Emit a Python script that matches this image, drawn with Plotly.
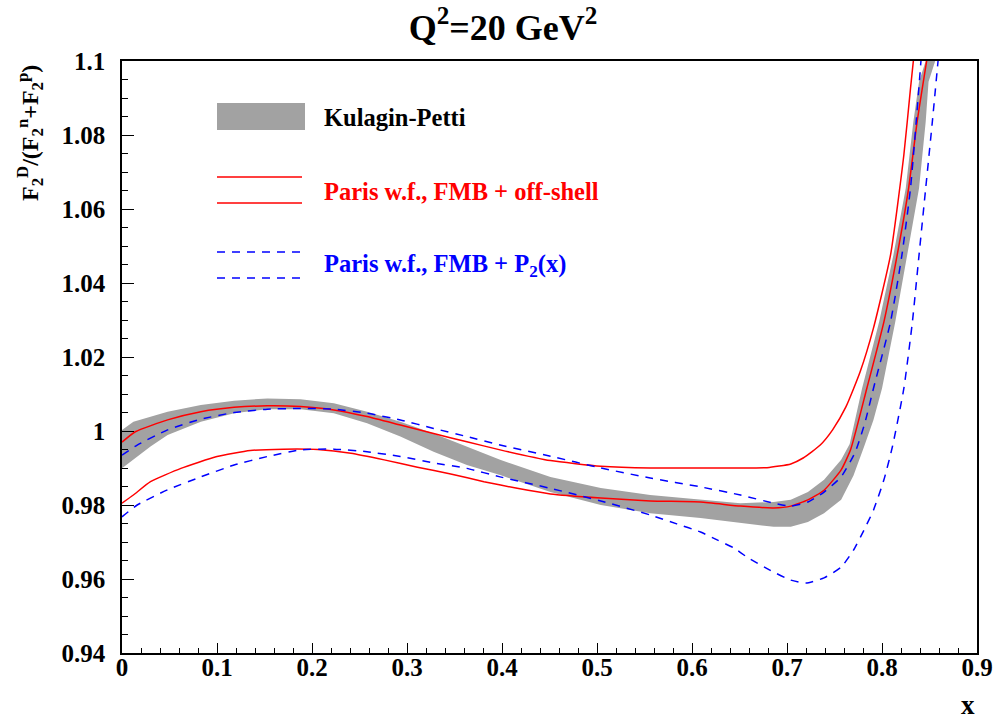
import plotly.graph_objects as go

# ---------------- data ----------------
band_top_x = [0, 0.012, 0.048, 0.083, 0.118, 0.153, 0.188, 0.223, 0.258, 0.293, 0.328, 0.363, 0.398, 0.451,
              0.504, 0.556, 0.609, 0.651, 0.686, 0.704, 0.722, 0.739, 0.757, 0.766, 0.779, 0.797, 0.812, 0.825,
              0.833, 0.839, 0.846]
band_top_y = [1.0003, 1.0025, 1.0052, 1.0070, 1.0082, 1.0088, 1.0086, 1.0075, 1.0052, 1.0025, 0.9993, 0.9958,
              0.9922, 0.9876, 0.9846, 0.9827, 0.9814, 0.9805, 0.9808, 0.9814, 0.9835, 0.9868, 0.9922, 0.9965,
              1.0115, 1.0295, 1.0476, 1.0656, 1.0836, 1.0944, 1.1]
band_bot_x = [0, 0.012, 0.030, 0.048, 0.083, 0.118, 0.153, 0.188, 0.223, 0.258, 0.293, 0.328, 0.363, 0.398,
              0.451, 0.504, 0.556, 0.609, 0.651, 0.686, 0.704, 0.722, 0.739, 0.757, 0.770, 0.781, 0.791, 0.800,
              0.814, 0.8265, 0.839, 0.846, 0.849, 0.856]
band_bot_y = [0.9899, 0.9922, 0.9958, 0.9989, 1.0025, 1.0048, 1.0059, 1.0059, 1.0048, 1.0021, 0.9985, 0.9944,
              0.9908, 0.9881, 0.9835, 0.9800, 0.9778, 0.9765, 0.9751, 0.9741, 0.9741, 0.9754, 0.9778, 0.9814,
              0.9880, 0.9957, 1.0030, 1.0115, 1.0295, 1.0476, 1.0656, 1.0836, 1.0944, 1.1]

red_up_x = [0, 0.014, 0.048, 0.083, 0.118, 0.153, 0.188, 0.223, 0.258, 0.293, 0.328, 0.363, 0.398, 0.451,
            0.504, 0.556, 0.609, 0.651, 0.679, 0.704, 0.717, 0.735, 0.748, 0.762, 0.777, 0.791, 0.809, 0.823,
            0.830, 0.833]
red_up_y = [0.9970, 0.9998, 1.0030, 1.0052, 1.0064, 1.0068, 1.0066, 1.0057, 1.0039, 1.0016, 0.9993, 0.9971,
            0.9949, 0.9920, 0.9905, 0.9900, 0.9900, 0.9900, 0.9901, 0.9911, 0.9927, 0.9962, 1.0003, 1.0065,
            1.0160, 1.0278, 1.0476, 1.0746, 1.0926, 1.1]

red_lo_x = [0, 0.012, 0.030, 0.062, 0.100, 0.135, 0.170, 0.206, 0.241, 0.276, 0.311, 0.346, 0.381, 0.416,
            0.451, 0.504, 0.556, 0.609, 0.651, 0.686, 0.704, 0.722, 0.739, 0.757, 0.767, 0.784, 0.802, 0.816,
            0.828, 0.837, 0.847]
red_lo_y = [0.9805, 0.9827, 0.9863, 0.9899, 0.9931, 0.9947, 0.9951, 0.9950, 0.9940, 0.9922, 0.9902, 0.9884,
            0.9863, 0.9845, 0.9830, 0.9819, 0.9811, 0.9808, 0.9797, 0.9792, 0.9797, 0.9814, 0.9840, 0.9895,
            0.9950, 1.0115, 1.0295, 1.0476, 1.0656, 1.0836, 1.1]

blue_up_x = [0, 0.016, 0.048, 0.083, 0.118, 0.153, 0.188, 0.223, 0.258, 0.293, 0.328, 0.363, 0.398, 0.451,
             0.504, 0.556, 0.609, 0.651, 0.686, 0.704, 0.722, 0.739, 0.757, 0.772, 0.782, 0.791, 0.809, 0.821,
             0.830, 0.836, 0.841]
blue_up_y = [0.9935, 0.9962, 1.0003, 1.0032, 1.0050, 1.0059, 1.0061, 1.0059, 1.0048, 1.0030, 1.0007, 0.9985,
             0.9962, 0.9932, 0.9900, 0.9873, 0.9849, 0.9827, 0.9805, 0.9797, 0.9808, 0.9835, 0.9876, 0.9944,
             1.0022, 1.0115, 1.0295, 1.0476, 1.0656, 1.0836, 1.1]

blue_lo_x = [0, 0.016, 0.048, 0.083, 0.118, 0.153, 0.188, 0.223, 0.258, 0.293, 0.328, 0.363, 0.398, 0.451,
             0.504, 0.556, 0.584, 0.609, 0.627, 0.644, 0.658, 0.682, 0.704, 0.720, 0.739, 0.757, 0.770, 0.781,
             0.791, 0.802, 0.811, 0.823, 0.832, 0.839, 0.846, 0.853, 0.859]
blue_lo_y = [0.9768, 0.9800, 0.9841, 0.9876, 0.9908, 0.9931, 0.9949, 0.9951, 0.9944, 0.9931, 0.9914, 0.9899,
             0.9876, 0.9845, 0.9811, 0.9773, 0.9749, 0.9727, 0.9705, 0.9684, 0.9659, 0.9624, 0.9597, 0.9589,
             0.9603, 0.9632, 0.9678, 0.9732, 0.9786, 0.9868, 0.9958, 1.0115, 1.0295, 1.0476, 1.0656, 1.0836,
             1.1]

x_tick_vals = [0, 0.1, 0.2, 0.3, 0.4, 0.5, 0.6, 0.7, 0.8, 0.9]
x_tick_text = ["0", "0.1", "0.2", "0.3", "0.4", "0.5", "0.6", "0.7", "0.8", "0.9"]
y_tick_vals = [0.94, 0.96, 0.98, 1.0, 1.02, 1.04, 1.06, 1.08, 1.1]
y_tick_text = ["0.94", "0.96", "0.98", "1", "1.02", "1.04", "1.06", "1.08", "1.1"]

legend_labels = ["Kulagin-Petti", "Paris w.f., FMB + off-shell", "Paris w.f., FMB + P<sub>2</sub>(x)"]

# ---------------- layout geometry (window pixels; body margin removed below) ----------------
W, H = 996, 719
PL, PR, PT, PB = 122, 977, 61, 653          # plot frame in window pixels
L, T = PL, PT
R, B = W - PR, H - PB
XR = (0.0, 0.9)
YR = (0.94, 1.1)
pw, ph = PR - PL, PB - PT

def px2x(px):
    return XR[0] + (px - PL) / pw * (XR[1] - XR[0])

def px2y(py):
    return YR[1] - (py - PT) / ph * (YR[1] - YR[0])

def px2paperx(px):
    return (px - PL) / pw

def px2papery(py):
    return (PB - py) / ph

FONT = "Liberation Serif"
GRAY = "#a2a2a2"
RED = "#ff0000"
BLUE = "#0000ff"

fig = go.Figure()

fig.add_trace(go.Scatter(
    x=band_top_x + band_bot_x[::-1], y=band_top_y + band_bot_y[::-1],
    mode="lines", fill="toself", fillcolor=GRAY, line=dict(width=0, color=GRAY),
    hoverinfo="skip", showlegend=False))

for xs, ys in [(red_up_x, red_up_y), (red_lo_x, red_lo_y)]:
    fig.add_trace(go.Scatter(x=xs, y=ys, mode="lines",
                             line=dict(color=RED, width=1.5, shape="spline", smoothing=0.5),
                             showlegend=False))
for xs, ys in [(blue_up_x, blue_up_y), (blue_lo_x, blue_lo_y)]:
    fig.add_trace(go.Scatter(x=xs, y=ys, mode="lines",
                             line=dict(color=BLUE, width=1.5, dash="8px,7px", shape="spline", smoothing=0.5),
                             showlegend=False))

# ---------------- in-plot legend ----------------
shapes = []
shapes.append(dict(type="rect", xref="x", yref="y", x0=px2x(217), x1=px2x(305), y0=px2y(103), y1=px2y(130),
                   fillcolor=GRAY, line=dict(width=0)))
for py in (177, 203):
    shapes.append(dict(type="line", xref="x", yref="y", x0=px2x(217), x1=px2x(302), y0=px2y(py), y1=px2y(py),
                       line=dict(color=RED, width=1.5)))
for py in (252, 278):
    shapes.append(dict(type="line", xref="x", yref="y", x0=px2x(217), x1=px2x(302), y0=px2y(py), y1=px2y(py),
                       line=dict(color=BLUE, width=1.5, dash="8px,7px")))

annotations = []
for txt, py, col in zip(legend_labels, (117, 191, 265), ("black", RED, BLUE)):
    annotations.append(dict(text=txt, xref="x", yref="y", x=px2x(322), y=px2y(py), xanchor="left",
                            yanchor="middle", showarrow=False,
                            font=dict(family=FONT, size=24.5, color=col, weight="bold")))

# y-axis title
annotations.append(dict(
    text="F<sub>2</sub><sup>D</sup>/(F<sub>2</sub><sup>n</sup>+F<sub>2</sub><sup>p</sup>)",
    xref="paper", yref="paper", x=px2paperx(30), y=px2papery(133), xanchor="center", yanchor="middle",
    textangle=-90, showarrow=False, font=dict(family=FONT, size=24, color="black", weight="bold")))
# x-axis title
annotations.append(dict(text="x", xref="paper", yref="paper", x=px2paperx(968), y=px2papery(705),
                        xanchor="center", yanchor="middle", showarrow=False,
                        font=dict(family=FONT, size=27, color="black", weight="bold")))

axis_common = dict(showline=True, linecolor="black", linewidth=1.5, mirror=True, showgrid=False,
                   zeroline=False, ticks="inside", tickcolor="black", tickwidth=1, automargin=False,
                   tickfont=dict(family=FONT, size=25, color="black", weight="bold"))

fig.update_layout(
    width=W, height=H, autosize=False,
    margin=dict(l=L, r=R, t=T, b=B, pad=0, autoexpand=False),
    paper_bgcolor="white", plot_bgcolor="white",
    title=dict(text="Q<sup>2</sup>=20 GeV<sup>2</sup>", xref="container", yref="container",
               x=503 / W, y=1 - 27 / H, xanchor="center", yanchor="middle",
               font=dict(family=FONT, size=36, color="black", weight="bold")),
    xaxis=dict(range=list(XR), tickvals=x_tick_vals, ticktext=x_tick_text, ticklen=10,
               ticklabelstandoff=-9,
               minor=dict(ticks="inside", dtick=0.02, tick0=0, ticklen=5, tickcolor="black", tickwidth=1,
                          showgrid=False),
               **axis_common),
    yaxis=dict(range=list(YR), tickvals=y_tick_vals, ticktext=y_tick_text, ticklen=12,
               ticklabelstandoff=10,
               minor=dict(ticks="inside", dtick=0.005, tick0=0.94, ticklen=6, tickcolor="black", tickwidth=1,
                          showgrid=False),
               **axis_common),
    shapes=shapes, annotations=annotations,
)

fig.write_html("out.html", config={"displayModeBar": False},
               post_script="document.body.style.margin='0';document.body.style.overflow='hidden';")
